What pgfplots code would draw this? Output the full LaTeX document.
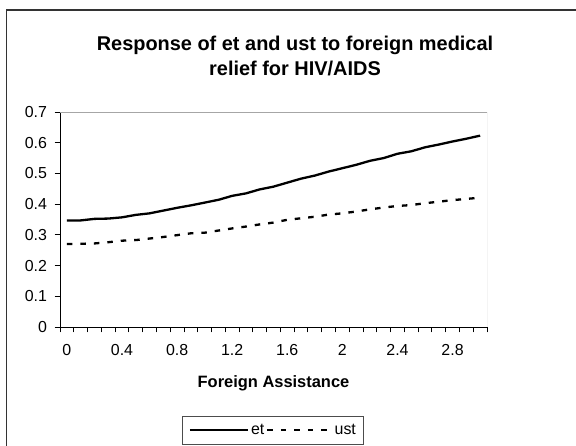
\documentclass[border=0pt]{standalone}
\usepackage{fontspec}
\setmainfont{Liberation Sans}
\usepackage{pgfplots}
\usepackage{pgfplotstable}
\pgfplotsset{compat=1.18}
\pgfplotsset{
  etleg/.style={legend image code/.code={\draw[##1] (0bp,0bp) -- (58bp,0bp);}},
  ustleg/.style={legend image code/.code={\draw[##1] (2bp,0bp) -- (66bp,0bp);}},
}

\pgfplotstableread{
i   x    et     ust
0   0.0  0.347  0.270
1   0.1  0.347  0.271
2   0.2  0.352  0.272
3   0.3  0.353  0.276
4   0.4  0.357  0.281
5   0.5  0.365  0.283
6   0.6  0.370  0.288
7   0.7  0.379  0.293
8   0.8  0.388  0.299
9   0.9  0.396  0.305
10  1.0  0.405  0.307
11  1.1  0.414  0.314
12  1.2  0.427  0.321
13  1.3  0.435  0.327
14  1.4  0.448  0.334
15  1.5  0.457  0.340
16  1.6  0.470  0.349
17  1.7  0.483  0.354
18  1.8  0.493  0.359
19  1.9  0.506  0.366
20  2.0  0.517  0.370
21  2.1  0.528  0.376
22  2.2  0.541  0.383
23  2.3  0.550  0.389
24  2.4  0.564  0.394
25  2.5  0.572  0.397
26  2.6  0.585  0.403
27  2.7  0.594  0.408
28  2.8  0.604  0.413
29  2.9  0.613  0.417
30  3.0  0.623  0.421
}\datatable

\begin{document}
\begin{tikzpicture}[x=1bp,y=1bp]
\useasboundingbox (0,0) rectangle (576,446);
% outer chart frame (cropped on the right and bottom)
\draw[line width=1.3bp, black!80] (6.7,-10) -- (6.7,436) -- (600,436);
% title
\node[align=center, font=\bfseries\fontsize{20}{26}\selectfont] at (295,390)
  {Response of et and ust to foreign medical\\relief for HIV/AIDS};
\begin{axis}[
  at={(60bp,119bp)}, anchor=south west,
  scale only axis, width=427bp, height=215bp,
  xmin=-0.5, xmax=30.5, ymin=0, ymax=0.7,
  axis x line*=bottom, axis y line*=left,
  axis line style={black, line width=0.9bp, -},
  tick align=outside,
  major tick length=5.5bp, minor tick length=5.5bp,
  xtick={0,4,...,28},
  xticklabels={0,0.4,0.8,1.2,1.6,2,2.4,2.8},
  major x tick style={draw=none},
  minor xtick={-0.5,0.5,...,30.5},
  minor x tick style={black, line width=0.9bp},
  ytick={0,0.1,0.2,0.3,0.4,0.5,0.6,0.7},
  yticklabels={0,0.1,0.2,0.3,0.4,0.5,0.6,0.7},
  y tick style={black, line width=0.9bp},
  /pgf/number format/assume math mode=true,
  tick label style={font=\fontsize{16}{19}\selectfont, black},
  xticklabel style={yshift=-8bp},
  yticklabel style={xshift=-4bp},
  xlabel={Foreign Assistance},
  xlabel style={font=\bfseries\fontsize{16.5}{19}\selectfont, at={(axis description cs:0.5,0)}, anchor=center, yshift=-56bp},
  legend columns=2,
  legend style={at={(axis description cs:0.2864,-0.4126)}, anchor=north west,
    draw=black!70, line width=0.9bp, inner xsep=6bp, inner ysep=6bp,
    font=\fontsize{16}{19}\selectfont,
    nodes={inner xsep=2bp, inner ysep=2bp},
    /tikz/every even column/.append style={column sep=0bp}},
]
\draw[gray!70, line width=0.9bp] (rel axis cs:0,1) -- (rel axis cs:1,1) -- (rel axis cs:1,0);
\addplot[black, line width=2.3bp, etleg] table[x=i, y=et] {\datatable};
\addlegendentry{et}
\addplot[black, line width=2.3bp, dash pattern=on 5.5bp off 8bp, ustleg] table[x=i, y=ust] {\datatable};
\addlegendentry{ust}
\end{axis}
\end{tikzpicture}
\end{document}
